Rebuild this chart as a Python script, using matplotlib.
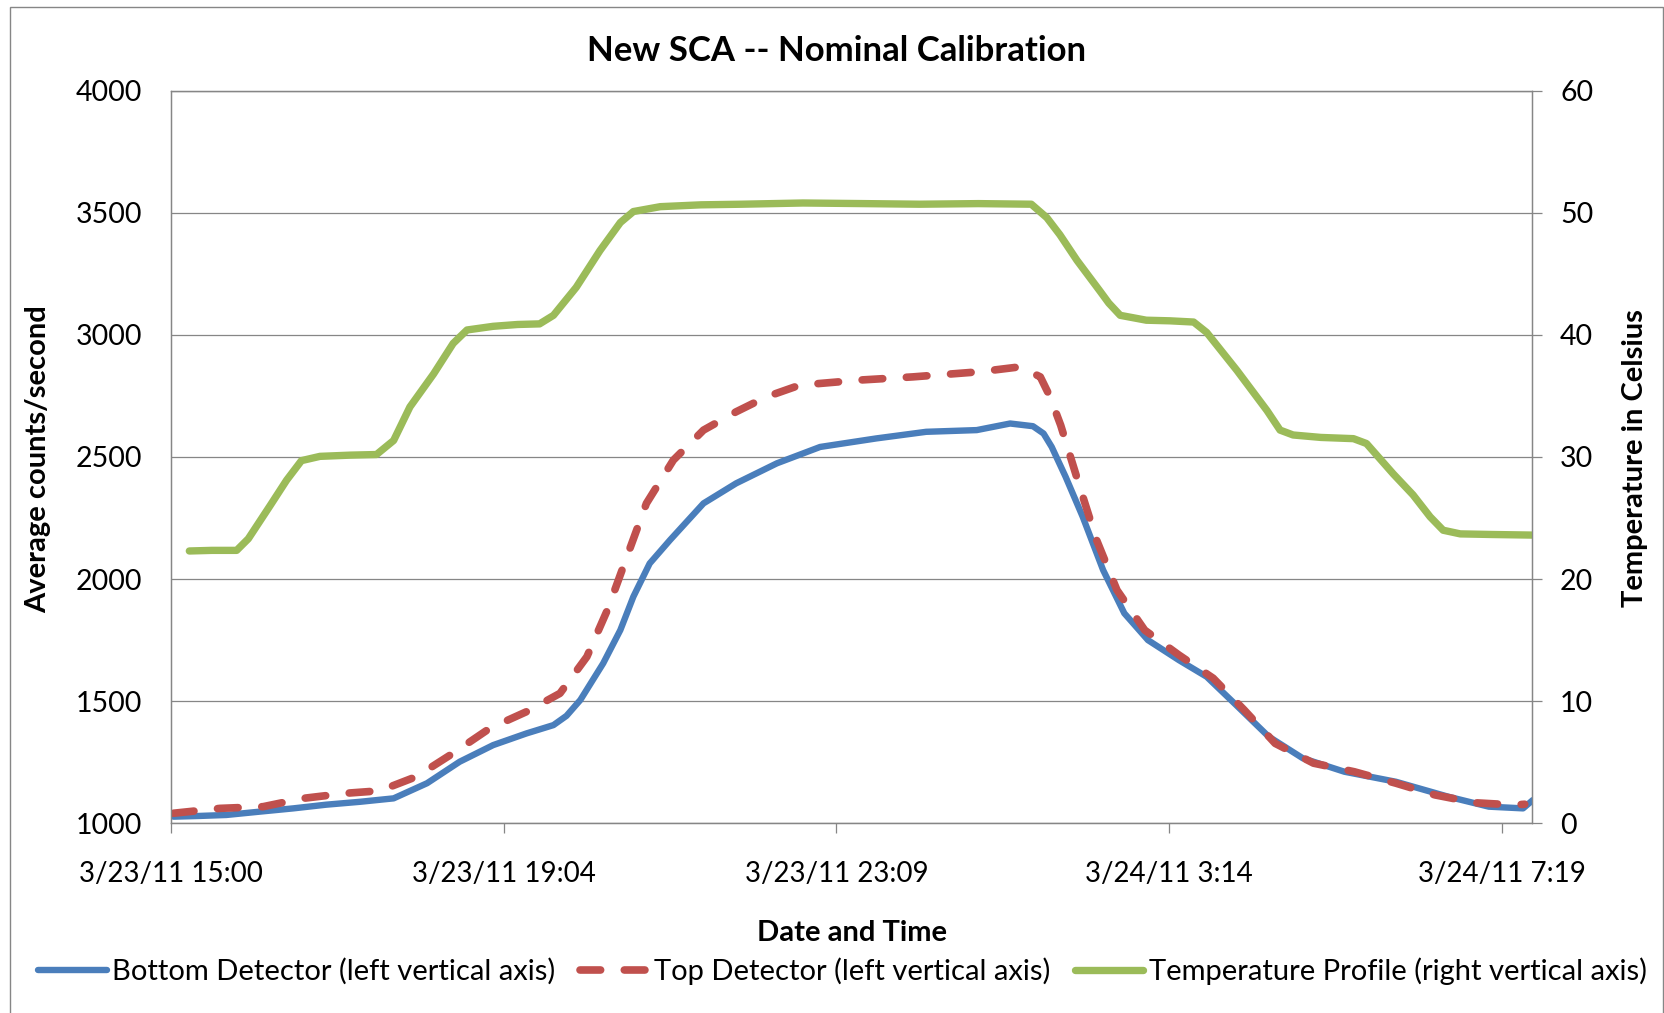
import matplotlib
matplotlib.use("Agg")
import matplotlib.pyplot as plt
from matplotlib.patches import Rectangle
from matplotlib.ticker import FixedLocator, MultipleLocator

# x values are hours after 3/23/11 15:00
temp_hours = [0.225, 0.50, 0.805, 0.948, 1.214, 1.418, 1.60, 1.827, 2.2, 2.52, 2.73, 2.93,
              3.22, 3.46, 3.63, 3.95, 4.25, 4.52, 4.69, 4.97, 5.26, 5.51, 5.67, 6.0, 6.5,
              7.0, 7.75, 8.5, 9.18, 9.9, 10.55, 10.74, 10.9, 11.11, 11.39, 11.5, 11.64,
              11.96, 12.25, 12.54, 12.70, 13.07, 13.44, 13.60, 13.76, 14.1, 14.5, 14.66,
              14.99, 15.23, 15.44, 15.60, 15.81, 16.2, 16.71]
temp_celsius = [22.3, 22.35, 22.35, 23.3, 26.0, 28.1, 29.7, 30.05, 30.15, 30.2, 31.35, 34.1,
                36.8, 39.3, 40.4, 40.7, 40.85, 40.9, 41.6, 43.9, 46.9, 49.2, 50.1, 50.5, 50.65,
                50.7, 50.8, 50.75, 50.7, 50.75, 50.7, 49.6, 48.2, 46.1, 43.6, 42.6, 41.6,
                41.2, 41.15, 41.05, 40.2, 37.1, 33.8, 32.2, 31.8, 31.6, 31.5, 31.1,
                28.6, 26.9, 25.1, 24.0, 23.7, 23.65, 23.6]

bottom_hours = [0.03, 0.35, 0.68, 1.1, 1.50, 1.9, 2.32, 2.73, 3.14, 3.54, 3.95, 4.36, 4.69,
                4.85, 5.02, 5.30, 5.51, 5.67, 5.87, 6.12, 6.53, 6.93, 7.43, 7.96, 8.65, 9.26,
                9.88, 10.29, 10.57, 10.70, 10.80, 10.97, 11.18, 11.43, 11.69, 11.98, 12.36,
                12.70, 13.04, 13.46, 13.88, 14.39, 15.02, 15.66, 16.16, 16.58, 16.70]
bottom_counts = [1027, 1030, 1034, 1048, 1061, 1076, 1088, 1102, 1164, 1252, 1320, 1368, 1402,
                 1440, 1505, 1655, 1791, 1928, 2064, 2160, 2310, 2392, 2474, 2541, 2576, 2603,
                 2610, 2637, 2626, 2596, 2541, 2419, 2255, 2037, 1860, 1750, 1668,
                 1600, 1491, 1355, 1266, 1211, 1170, 1109, 1068, 1061, 1095]

top_hours = [0.03, 0.60, 1.13, 1.62, 2.15, 2.56, 3.01, 3.46, 3.91, 4.36, 4.77, 5.10, 5.36,
             5.59, 5.83, 6.16, 6.53, 6.93, 7.30, 7.71, 8.45, 9.10, 9.92, 10.41, 10.66, 10.78,
             10.91, 11.13, 11.35, 11.60, 11.94, 12.36, 12.78, 13.16, 13.54, 14.01, 14.51,
             15.02, 15.50, 15.99, 16.47, 16.6]
top_counts = [1041, 1061, 1068, 1102, 1123, 1133, 1191, 1287, 1389, 1457, 1532, 1682, 1880,
              2091, 2310, 2487, 2610, 2685, 2746, 2794, 2815, 2828, 2849, 2869, 2828, 2746,
              2630, 2392, 2160, 1955, 1791, 1689, 1594, 1464, 1327, 1246, 1211,
              1164, 1116, 1084, 1075, 1078]

# Excel major unit 0.17 day
x_tick_hours = [0, 4.08, 8.16, 12.24, 16.32]
x_tick_labels = ["3/23/11 15:00", "3/23/11 19:04", "3/23/11 23:09", "3/24/11 3:14", "3/24/11 7:19"]
x_end_hours = 16.685

gray = "#868686"
plt.rcParams["font.family"] = ["Lato", "DejaVu Sans"]

fig = plt.figure(figsize=(16.65, 10.13), dpi=100)
ax = fig.add_axes([0.1027, 0.1873, 0.8172, 0.7232])
ax2 = ax.twinx()

l1, = ax.plot(bottom_hours, bottom_counts, color="#4A7EBB", lw=4.6,
              solid_capstyle="round", label="Bottom Detector (left vertical axis)", zorder=3)
l2, = ax.plot(top_hours, top_counts, color="#C0504D", lw=5.5, dashes=(2.7, 3.1),
              dash_capstyle="round", label="Top Detector (left vertical axis)", zorder=4)
l3, = ax2.plot(temp_hours, temp_celsius, color="#9BBB59", lw=5.3,
               solid_capstyle="round", label="Temperature Profile (right vertical axis)")

ax.set_xlim(0, x_end_hours)
ax.set_ylim(1000, 4000)
ax2.set_ylim(0, 60)
ax.yaxis.set_major_locator(MultipleLocator(500))
ax2.yaxis.set_major_locator(MultipleLocator(10))
ax.xaxis.set_major_locator(FixedLocator(x_tick_hours))
ax.set_xticklabels(x_tick_labels)

ax.grid(axis="y", color=gray, lw=0.9)
ax.set_axisbelow(True)
for a in (ax, ax2):
    for s in a.spines.values():
        s.set_color(gray)
        s.set_linewidth(0.9)

ax.tick_params(axis="y", length=0, pad=21, labelsize=20.5)
ax.tick_params(axis="x", length=7.2, width=0.9, color=gray, pad=20, labelsize=20)
ax2.tick_params(axis="y", length=7.5, width=0.9, color=gray, pad=13, labelsize=20.5)

fig.text(0.5027, 0.9497, "New SCA -- Nominal Calibration", fontsize=25, fontweight="bold",
         ha="center", va="center")
fig.text(0.0228, 0.547, "Average counts/second", fontsize=21, fontweight="bold",
         rotation=90, ha="center", va="center")
fig.text(0.982, 0.548, "Temperature in Celsius", fontsize=21, fontweight="bold",
         rotation=90, ha="center", va="center")
fig.text(0.5117, 0.079, "Date and Time", fontsize=21, fontweight="bold",
         ha="center", va="center")

fig.legend([l1, l2, l3], [l1.get_label(), l2.get_label(), l3.get_label()],
           loc="center", bbox_to_anchor=(0.506, 0.0415), ncol=3, frameon=False,
           fontsize=21, handlelength=2.36, handletextpad=0.2, columnspacing=0.82)

fig.patches.append(Rectangle((9.6 / 1665, -0.01), (1663.5 - 9.6) / 1665, 1.0028,
                             transform=fig.transFigure, fill=False, edgecolor=gray, lw=1))

fig.savefig("out.png", dpi=100)
